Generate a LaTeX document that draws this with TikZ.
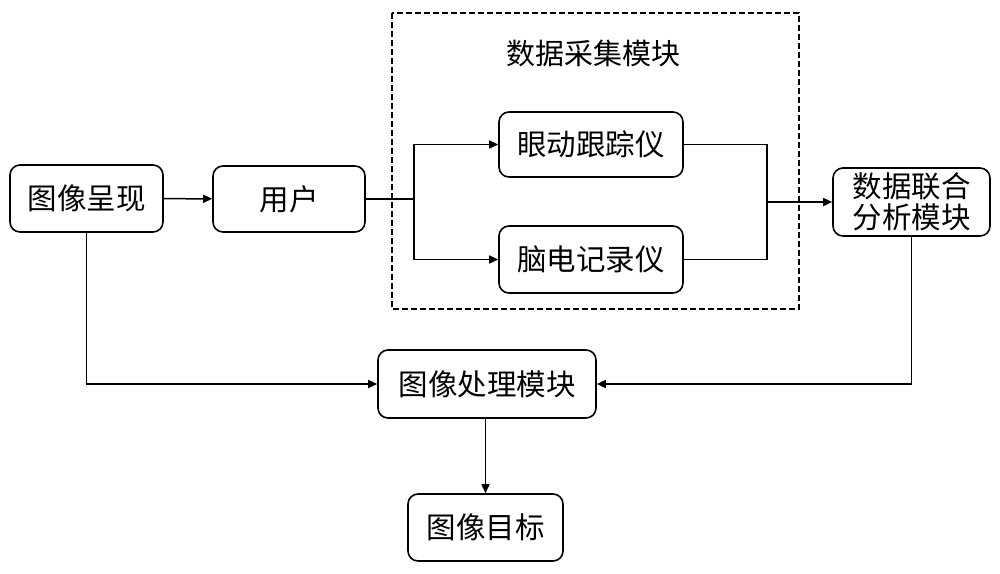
\documentclass[tikz,border=0pt]{standalone}
\usepackage{fontspec}
\setmainfont{Noto Sans CJK SC}
\usetikzlibrary{arrows.meta}
\begin{document}
\begin{tikzpicture}[x=1pt,y=-1pt,
  box/.style={draw,line width=1.6pt,rounded corners=10pt,font=\fontsize{29.5}{31}\selectfont,inner sep=0pt,align=center},
  line/.style={line width=1.5pt},
  conn/.style={line width=1.5pt,-{Triangle[length=9pt,width=8pt]}}]
\useasboundingbox (0,0) rectangle (1000,573);
\draw[line width=1.5pt,dash pattern=on 6pt off 3pt] (392,13) rectangle (799,309);
\node[font=\fontsize{29}{31}\selectfont] (title) at (593,53) {数据采集模块};
\node[box,minimum width=153pt,minimum height=67pt] (show) at (86.5,198.5) {图像呈现};
\node[box,minimum width=152pt,minimum height=66pt] (user) at (289,199) {用户};
\node[box,minimum width=184pt,minimum height=65pt] (eye) at (591,144.5) {眼动跟踪仪};
\node[box,minimum width=184pt,minimum height=67pt] (eeg) at (591,259.5) {脑电记录仪};
\node[box,minimum width=157pt,minimum height=68pt] (joint) at (911.5,202) {数据联合\\分析模块};
\node[box,minimum width=218pt,minimum height=68pt] (proc) at (487,384) {图像处理模块};
\node[box,minimum width=155pt,minimum height=67pt] (target) at (485.5,527.5) {图像目标};
\coordinate (split) at (414,199);
\coordinate (merge) at (767,202);
\draw[conn] (show) -- (user);
\draw[line] (user.east) -- (split);
\draw[conn] (split) |- (eye.west);
\draw[conn] (split) |- (eeg.west);
\draw[line] (eye.east) -| (merge);
\draw[line] (eeg.east) -| (merge);
\draw[conn] (merge) -- (joint.west);
\draw[conn] (show.south) |- (proc.west);
\draw[conn] (joint.south) |- (proc.east);
\draw[conn] (target.north |- proc.south) -- (target.north);
\end{tikzpicture}
\end{document}
